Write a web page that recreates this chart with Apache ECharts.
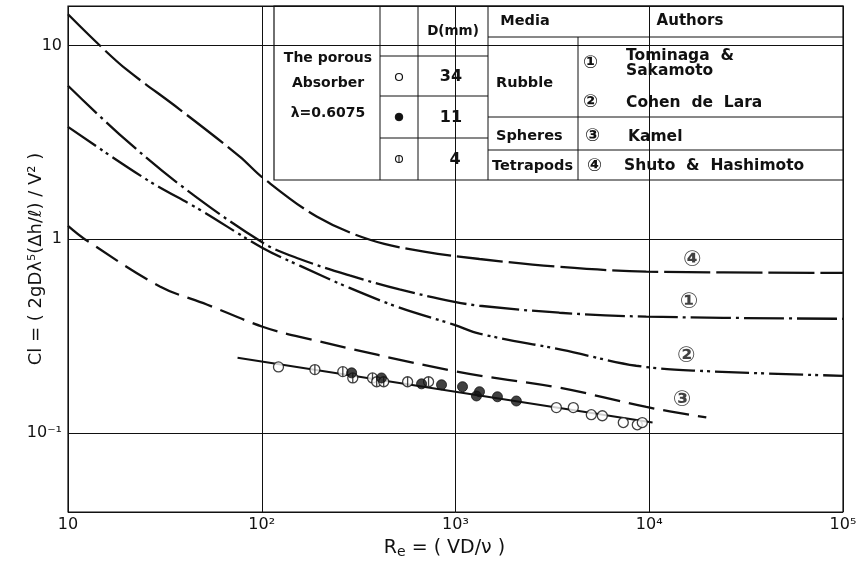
<!DOCTYPE html>
<html>
<head>
<meta charset="utf-8">
<script src="https://cdn.jsdelivr.net/npm/echarts@6/dist/echarts.min.js"></script>
<style>
  html, body { margin: 0; padding: 0; background: #fff; }
  #chart { width: 856px; height: 562px; }
</style>
</head>
<body>
<div id="chart"></div>
<script>
// ---- tick labels ----
const xTickValues = [10, 100, 1000, 10000, 100000];
const xTickLabels = ['10', '10²', '10³', '10⁴', '10⁵'];
const yTickValues = [0.1, 1, 10];
const yTickLabels = ['10⁻¹', '1', '10'];

// ---- empirical curves: [Re, Cl] ----
// ④ Shuto & Hashimoto (tetrapods)
const curve4 = [[10, 14.5], [14.6, 10], [20.1, 7.5], [37.8, 4.67], [77, 2.67], [101, 2.08],
  [192, 1.31], [365, 0.99], [700, 0.86], [1330, 0.79], [3400, 0.72], [9660, 0.68], [100000, 0.67]];
// ① Tominaga & Sakamoto (rubble)
const curve1 = [[10, 6.2], [18.5, 3.47], [37.8, 1.91], [101, 0.96], [157, 0.79], [284, 0.65],
  [514, 0.55], [988, 0.475], [1330, 0.453], [3436, 0.417], [9660, 0.398], [100000, 0.388]];
// ② Cohen de Lara (rubble)
const curve2 = [[10, 3.8], [25.5, 2.03], [47.9, 1.42], [101, 0.90], [157, 0.73], [284, 0.56],
  [514, 0.443], [988, 0.361], [1330, 0.325], [3560, 0.268], [8570, 0.222], [18100, 0.209], [100000, 0.197]];
// ③ Kamel (spheres)
const curve3 = [[10, 1.17], [12.2, 1.0], [29.8, 0.57], [52, 0.46], [101, 0.353], [157, 0.313],
  [1012, 0.207], [3436, 0.171], [9660, 0.136], [19700, 0.120]];

// ---- the porous absorber, λ = 0.6075 ----
const fitLine = [[75, 0.244], [10400, 0.113]];
const pointsD34 = [[122, 0.219], [3316, 0.135], [4056, 0.135], [5023, 0.124], [5725, 0.1225],
  [7345, 0.113], [8674, 0.110], [9206, 0.113]];
const pointsD11 = [[291, 0.204], [415, 0.192], [668, 0.179], [847, 0.177], [1087, 0.173],
  [1330, 0.163], [1283, 0.155], [1646, 0.1535], [2061, 0.146]];
const pointsD4 = [[188, 0.212], [262, 0.207], [295, 0.192], [373, 0.192], [392, 0.1835],
  [426, 0.1835], [566, 0.1835], [726, 0.1835]];

// ---- curve tags ----
const curveTags = [['④', 16700, 0.78], ['①', 16070, 0.47], ['②', 15520, 0.247], ['③', 14790, 0.148]];

const FONT = '"DejaVu Sans", "Noto Sans CJK JP", sans-serif';
const INK = '#111';

function tickText(values, labels) {
  return function (v) {
    for (let i = 0; i < values.length; i++) {
      if (Math.abs(Math.log10(v) - Math.log10(values[i])) < 1e-6) return labels[i];
    }
    return '';
  };
}

const barredCircle = 'path://M0,-10A10,10,0,1,1,0,10A10,10,0,1,1,0,-10ZM0,-10L0,10';

function curveSeries(data, dash) {
  return {
    type: 'line', data: data, smooth: 0.35, symbol: 'none', z: 3,
    lineStyle: { color: INK, width: 2.3, type: dash }
  };
}

// ---- table ----
const TL = 274, TR = 843, TT = 6, TB = 180;
const tableEls = [];
function hline(x1, x2, y) {
  tableEls.push({ type: 'line', shape: { x1: x1, y1: y, x2: x2, y2: y }, style: { stroke: INK, lineWidth: 1 } });
}
function vline(x, y1, y2) {
  tableEls.push({ type: 'line', shape: { x1: x, y1: y1, x2: x, y2: y2 }, style: { stroke: INK, lineWidth: 1 } });
}
function txt(s, x, y, size, align) {
  tableEls.push({ type: 'text', x: x, y: y, style: { text: s, font: 'bold ' + size + 'px ' + FONT, fill: INK,
    textAlign: align || 'left', textVerticalAlign: 'middle' } });
}
tableEls.push({ type: 'rect', shape: { x: TL, y: TT, width: TR - TL, height: TB - TT },
  style: { fill: '#fff', stroke: INK, lineWidth: 1.2 } });
vline(380, TT, TB); vline(418, TT, TB); vline(488, TT, TB); vline(578, 37, TB);
hline(380, 488, 56); hline(380, 488, 96); hline(380, 488, 138);
hline(488, TR, 37); hline(488, TR, 117); hline(488, TR, 150);
txt('The porous', 328, 58, 14, 'center');
txt('Absorber', 328, 83, 14, 'center');
txt('λ=0.6075', 328, 113, 14, 'center');
txt('D(mm)', 453, 31, 13.5, 'center');
txt('34', 451, 77, 16, 'center');
txt('11', 451, 118, 16, 'center');
txt('4', 455, 160, 16, 'center');
tableEls.push({ type: 'circle', shape: { cx: 399, cy: 77, r: 3.5 }, style: { fill: '#fff', stroke: INK, lineWidth: 1.2 } });
tableEls.push({ type: 'circle', shape: { cx: 399, cy: 117, r: 3.8 }, style: { fill: INK, stroke: INK, lineWidth: 1 } });
tableEls.push({ type: 'circle', shape: { cx: 399, cy: 159, r: 3.5 }, style: { fill: '#fff', stroke: INK, lineWidth: 1.1 } });
vline(399, 155.5, 162.5);
txt('Media', 525, 21, 14.5, 'center');
txt('Authors', 690, 21, 15, 'center');
txt('Rubble', 496, 83, 14.5);
txt('Spheres', 496, 136, 14.5);
txt('Tetrapods', 492, 166, 14.5);
txt('①', 583, 63, 18);
txt('Tominaga  &', 626, 56, 15.5);
txt('Sakamoto', 626, 71, 15.5);
txt('②', 583, 102, 18);
txt('Cohen  de  Lara', 626, 103, 15.5);
txt('③', 585, 136, 18);
txt('Kamel', 628, 137, 15.5);
txt('④', 587, 166, 18);
txt('Shuto  &  Hashimoto', 624, 166, 15.5);

const option = {
  animation: false,
  backgroundColor: '#fff',
  grid: { left: 68, right: 13, top: 6, bottom: 50, outerBoundsMode: 'none', containLabel: false,
    show: true, borderColor: INK, borderWidth: 1.2, backgroundColor: 'transparent' },
  xAxis: {
    type: 'log', logBase: 10, min: 10, max: 100000,
    axisLine: { show: false }, axisTick: { show: false },
    splitLine: { show: true, lineStyle: { color: INK, width: 1 } },
    axisLabel: { formatter: tickText(xTickValues, xTickLabels), color: INK, fontSize: 16, fontFamily: FONT, margin: 5,
      showMinLabel: true, showMaxLabel: true },
    name: '{r|R}{s|e}{r| = ( VD/ν )}',
    nameLocation: 'middle', nameGap: 25, nameMoveOverlap: false,
    nameTextStyle: { padding: [0, 22, 0, 0], rich: {
      r: { fontSize: 19, fontFamily: FONT, color: INK },
      s: { fontSize: 14, fontFamily: FONT, color: INK, padding: [8, 0, 0, 0] }
    } }
  },
  yAxis: {
    type: 'log', logBase: 10, min: 0.039, max: 16,
    axisLine: { show: false }, axisTick: { show: false },
    splitLine: { show: true, lineStyle: { color: INK, width: 1 } },
    axisLabel: { formatter: tickText(yTickValues, yTickLabels), color: INK, fontSize: 16, fontFamily: FONT, margin: 6 },
    name: 'Cl = ( 2gDλ⁵(Δh/ℓ) / V² )',
    nameLocation: 'middle', nameRotate: 90, nameGap: 23, nameMoveOverlap: false,
    nameTextStyle: { fontSize: 18, fontFamily: FONT, color: INK }
  },
  graphic: { elements: [{ type: 'group', z: 100, children: tableEls }] },
  series: [
    curveSeries(curve4, [46, 6]),
    curveSeries(curve1, [40, 5, 3, 5]),
    curveSeries(curve2, [34, 5, 3, 4, 3, 5]),
    curveSeries(curve3, [26, 9]),
    { type: 'line', data: fitLine, symbol: 'none', z: 4, lineStyle: { color: INK, width: 2 } },
    { type: 'scatter', data: pointsD34, symbol: 'circle', symbolSize: 10, z: 5,
      itemStyle: { color: '#fff', borderColor: INK, borderWidth: 1.3 } },
    { type: 'scatter', data: pointsD4, symbol: barredCircle, symbolSize: 10, z: 5,
      itemStyle: { color: '#fff', borderColor: INK, borderWidth: 1.3 } },
    { type: 'scatter', data: pointsD11, symbol: 'circle', symbolSize: 10, z: 6,
      itemStyle: { color: INK, borderColor: INK, borderWidth: 1 } },
    { type: 'scatter', data: curveTags.map(t => ({ name: t[0], value: [t[1], t[2]] })), symbolSize: 0, z: 7,
      label: { show: true, formatter: '{b}', position: 'inside', fontSize: 22, fontWeight: 'bold', fontFamily: FONT, color: INK } }
  ]
};

const chart = echarts.init(document.getElementById('chart'), null, { renderer: 'canvas' });
chart.setOption(option);
</script>
</body>
</html>
